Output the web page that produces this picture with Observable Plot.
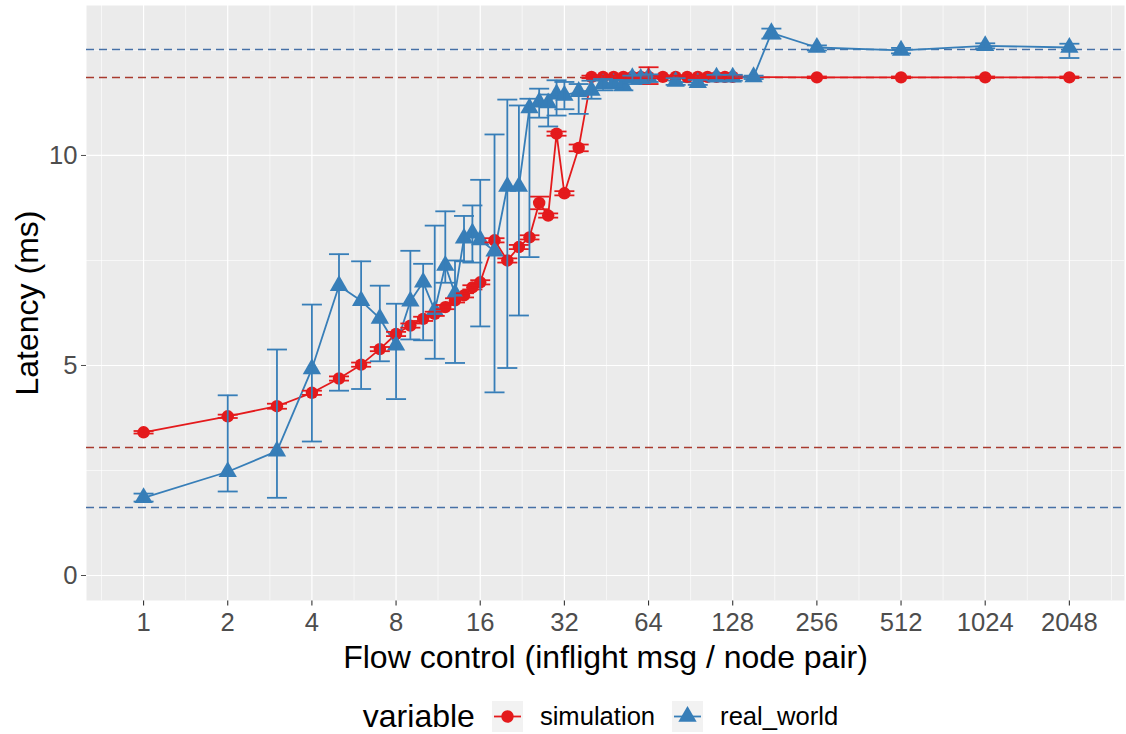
<!DOCTYPE html>
<html><head><meta charset="utf-8">
<script src="https://cdn.jsdelivr.net/npm/d3@7"></script>
<script src="https://cdn.jsdelivr.net/npm/@observablehq/plot@0.6"></script>
<style>
body{margin:0;background:#fff;font-family:"Liberation Sans",Arial,sans-serif;}
#legend{display:flex;align-items:center;justify-content:center;height:44px;padding-left:94px;padding-right:2px;margin-top:4px;}
#legend .title{font-size:32px;color:#000;margin-right:17px;}
#legend .lab{font-size:25.6px;color:#000;margin-right:17px;}
#legend svg{margin-right:17px;}
</style></head><body>
<div id="chart"></div>
<div id="legend"></div>
<script>
// ---- data ----
const xTicks = [1, 2, 4, 8, 16, 32, 64, 128, 256, 512, 1024, 2048];
const xMinor = [0.707, 1.414, 2.83, 5.66, 11.3, 22.6, 45.3, 90.5, 181, 362, 724, 1448, 2896];
const yTicks = [0, 5, 10];
const yMinor = [2.5, 7.5, 12.5];

const simX  = [1,2,3,4,5,6,7,8,9,10,11,12,13,14,15,16,18,20,22,24,26,28,30,32,36,40,44,48,52,56,60,64,72,80,88,96,104,112,120,128,256,512,1024,2048];
const simY  = [3.41,3.79,4.03,4.35,4.69,5.02,5.39,5.75,5.95,6.11,6.23,6.39,6.55,6.67,6.86,6.98,7.98,7.50,7.82,8.05,8.87,8.57,10.52,9.10,10.18,11.87,11.87,11.87,11.87,11.87,11.87,11.87,11.87,11.87,11.87,11.87,11.87,11.87,11.87,11.87,11.86,11.86,11.86,11.86];
const simLo = [3.38,3.75,3.97,4.30,4.64,4.97,5.34,5.70,5.90,6.06,6.18,6.34,6.50,6.62,6.81,6.93,7.93,7.45,7.77,8.00,8.72,8.52,10.47,9.05,10.10,11.84,11.84,11.84,11.84,11.84,11.84,11.70,11.84,11.84,11.84,11.84,11.84,11.84,11.84,11.84,11.84,11.84,11.84,11.84];
const simHi = [3.44,3.83,4.09,4.40,4.74,5.07,5.44,5.80,6.00,6.16,6.28,6.44,6.60,6.72,6.91,7.03,8.03,7.55,7.87,8.10,9.02,8.62,10.57,9.15,10.26,11.90,11.90,11.90,11.90,11.90,11.90,12.10,11.90,11.90,11.90,11.90,11.90,11.90,11.90,11.90,11.88,11.88,11.88,11.88];

const realX  = [1,2,3,4,5,6,7,8,9,10,11,12,13,14,15,16,18,20,22,24,26,28,30,32,36,40,44,48,52,56,60,64,80,96,112,128,152,176,256,512,1024,2048];
const realY  = [1.85,2.47,2.96,4.92,6.90,6.54,6.12,5.48,6.53,6.98,6.31,7.38,6.71,8.03,8.15,7.99,7.72,9.26,9.26,11.13,11.27,11.25,11.46,11.43,11.52,11.55,11.70,11.71,11.67,11.85,11.83,11.86,11.76,11.73,11.86,11.86,11.87,12.92,12.57,12.50,12.61,12.57];
const realLo = [1.76,2.00,1.85,3.19,4.40,4.44,5.10,4.20,5.62,5.60,5.16,6.97,5.06,7.48,7.45,5.93,4.36,4.94,6.19,7.58,10.90,10.69,10.95,11.10,10.99,11.35,11.55,11.60,11.55,11.70,11.72,11.75,11.68,11.68,11.78,11.78,11.82,12.78,12.50,12.43,12.55,12.32];
const realHi = [1.95,4.29,5.38,6.45,7.65,7.48,6.90,6.47,7.73,7.42,8.33,8.67,7.50,8.56,8.81,9.42,10.50,11.33,11.19,11.35,11.59,11.45,11.79,11.75,11.70,11.78,11.82,11.80,11.78,11.90,11.92,11.93,11.84,11.80,11.92,11.92,11.90,13.02,12.62,12.56,12.67,12.66];

const simRef  = [11.857, 3.048];
const realRef = [12.52, 1.62];

const RED = "#E41A1C", BLUE = "#377EB8";
const RED_REF = "#A83A2E", BLUE_REF = "#4670A6";

// ---- tables ----
const sim = simX.map((x, i) => ({x, y: simY[i], lo: simLo[i], hi: simHi[i]}));
const real = realX.map((x, i) => ({x, y: realY[i], lo: realLo[i], hi: realHi[i]}));

const cap = {draw(ctx) { ctx.moveTo(-10, 0); ctx.lineTo(10, 0); }};
const vtick = {draw(ctx) { ctx.moveTo(0, 0); ctx.lineTo(0, 5); }};

const chart = Plot.plot({
  width: 1126, height: 690,
  marginTop: 5, marginBottom: 90, marginLeft: 86, marginRight: 2,
  style: {fontFamily: "Liberation Sans, Arial, sans-serif", fontSize: "25.6px", color: "#4D4D4D", background: "#fff"},
  x: {type: "log", domain: [0.625, 3225], axis: null},
  y: {domain: [-0.595, 13.57], ticks: yTicks, tickSize: 5, tickPadding: 4, label: null},
  marks: [
    Plot.frame({fill: "#EBEBEB", stroke: "none"}),
    Plot.ruleX(xMinor, {stroke: "#fff", strokeWidth: 0.6}),
    Plot.ruleY(yMinor, {stroke: "#fff", strokeWidth: 0.6}),
    Plot.ruleX(xTicks, {stroke: "#fff", strokeWidth: 1.2}),
    Plot.ruleY(yTicks, {stroke: "#fff", strokeWidth: 1.2}),
    Plot.ruleY(simRef, {stroke: RED_REF, strokeWidth: 1.5, strokeDasharray: "8,5"}),
    Plot.ruleY(realRef, {stroke: BLUE_REF, strokeWidth: 1.5, strokeDasharray: "8,5"}),
    Plot.line(sim, {x: "x", y: "y", stroke: RED, strokeWidth: 1.8}),
    Plot.line(real, {x: "x", y: "y", stroke: BLUE, strokeWidth: 1.8}),
    Plot.dot(sim, {x: "x", y: "y", r: 6.2, fill: RED, symbol: "circle"}),
    Plot.dot(real, {x: "x", y: "y", r: 6.8, fill: BLUE, symbol: "triangle"}),
    Plot.ruleX(sim, {x: "x", y1: "lo", y2: "hi", stroke: RED, strokeWidth: 1.8}),
    Plot.dot(sim, {x: "x", y: "lo", r: 5, symbol: cap, stroke: RED, fill: "none", strokeWidth: 1.8}),
    Plot.dot(sim, {x: "x", y: "hi", r: 5, symbol: cap, stroke: RED, fill: "none", strokeWidth: 1.8}),
    Plot.ruleX(real, {x: "x", y1: "lo", y2: "hi", stroke: BLUE, strokeWidth: 1.8}),
    Plot.dot(real, {x: "x", y: "lo", r: 5, symbol: cap, stroke: BLUE, fill: "none", strokeWidth: 1.8}),
    Plot.dot(real, {x: "x", y: "hi", r: 5, symbol: cap, stroke: BLUE, fill: "none", strokeWidth: 1.8}),
    // x axis ticks and labels
    Plot.dot(xTicks, {x: d => d, frameAnchor: "bottom", r: 5, symbol: vtick, stroke: "#333", fill: "none", strokeWidth: 1.1}),
    Plot.text(xTicks, {x: d => d, text: d => String(d), frameAnchor: "bottom", lineAnchor: "middle", dy: 22, fill: "#4D4D4D", fontSize: 25.6}),
    Plot.text(["Flow control (inflight msg / node pair)"], {text: d => d, frameAnchor: "bottom", textAnchor: "middle", lineAnchor: "middle", dy: 57, fontSize: 32, fill: "#000"}),
    Plot.text(["Latency (ms)"], {text: d => d, frameAnchor: "left", textAnchor: "middle", lineAnchor: "middle", dx: -59, rotate: -90, fontSize: 32, fill: "#000"})
  ]
});
document.getElementById("chart").appendChild(chart);

// ---- legend ----
const legendItems = [
  {label: "simulation", color: RED, shape: "circle"},
  {label: "real_world", color: BLUE, shape: "triangle"}
];
const lg = document.getElementById("legend");
const t = document.createElement("span"); t.className = "title"; t.textContent = "variable"; lg.appendChild(t);
for (const it of legendItems) {
  const ns = "http://www.w3.org/2000/svg";
  const s = document.createElementNS(ns, "svg");
  s.setAttribute("width", 31); s.setAttribute("height", 31);
  const bg = document.createElementNS(ns, "rect");
  bg.setAttribute("width", 31); bg.setAttribute("height", 31); bg.setAttribute("fill", "#F2F2F2");
  s.appendChild(bg);
  const ln = document.createElementNS(ns, "line");
  ln.setAttribute("x1", 2); ln.setAttribute("x2", 29); ln.setAttribute("y1", 15.5); ln.setAttribute("y2", 15.5);
  ln.setAttribute("stroke", it.color); ln.setAttribute("stroke-width", 1.8);
  s.appendChild(ln);
  const p = document.createElementNS(ns, "path");
  const sym = it.shape === "circle" ? d3.symbolCircle : d3.symbolTriangle;
  const r = it.shape === "circle" ? 6.2 : 6.8;
  p.setAttribute("d", d3.symbol(sym, Math.PI * r * r)());
  p.setAttribute("transform", "translate(15.5,15.5)");
  p.setAttribute("fill", it.color);
  s.appendChild(p);
  lg.appendChild(s);
  const l = document.createElement("span"); l.className = "lab"; l.textContent = it.label; lg.appendChild(l);
}
</script>
</body></html>
